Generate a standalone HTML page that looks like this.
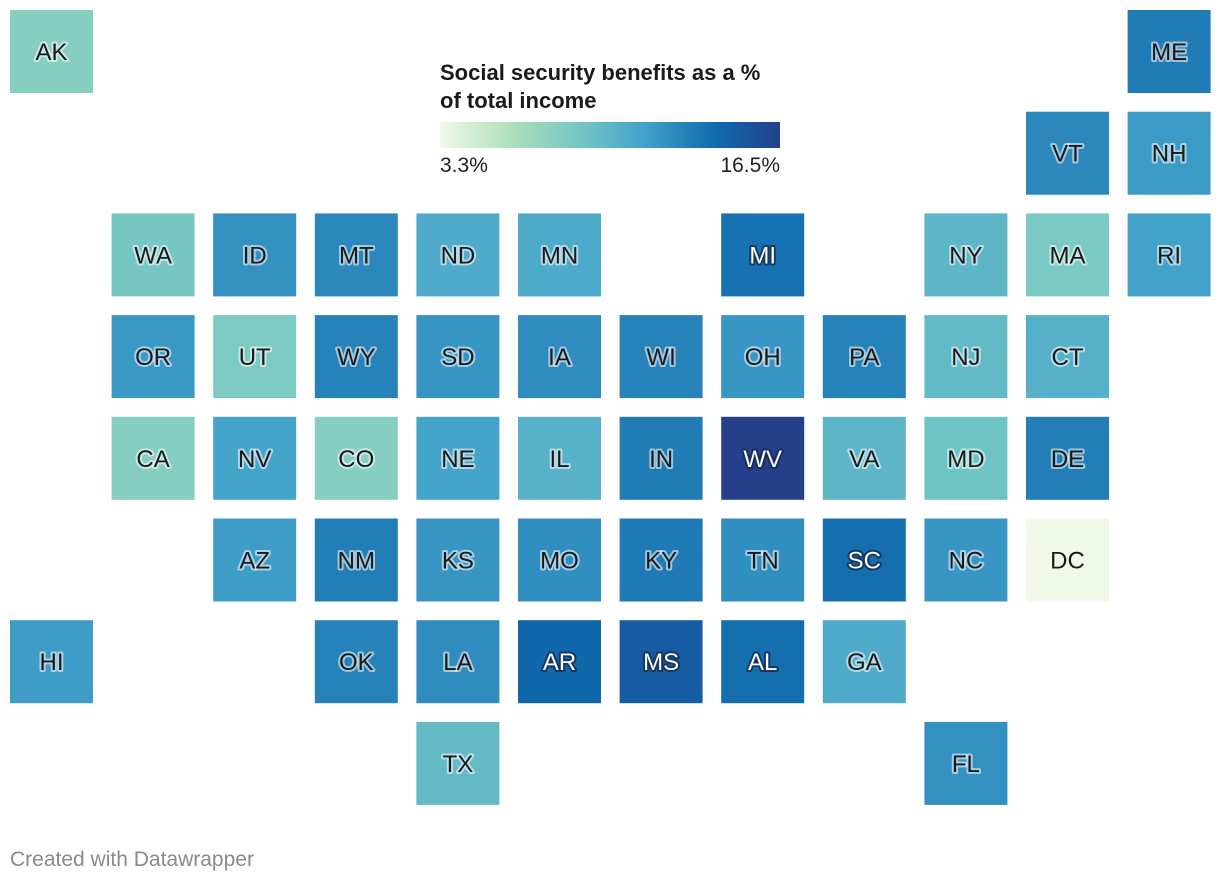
<!DOCTYPE html>
<html><head><meta charset="utf-8">
<style>
body{margin:0;background:#fff;font-family:"Liberation Sans",sans-serif}
svg{display:block}
</style></head>
<body>
<svg id="chart" width="1220" height="882">
<defs>
<linearGradient id="lg" x1="0" x2="1" y1="0" y2="0">
<stop offset="0" stop-color="#f0f9e8"/><stop offset="0.22" stop-color="#aadeb8"/>
<stop offset="0.42" stop-color="#71c5c5"/><stop offset="0.6" stop-color="#43a2ca"/>
<stop offset="0.82" stop-color="#0f68ab"/><stop offset="1" stop-color="#253f8a"/>
</linearGradient>
</defs>
<g id="tiles"></g>
<g>
<text x="440" y="80" font-size="22" font-weight="bold" fill="#1a1a1a">Social security benefits as a %</text>
<text x="440" y="108" font-size="22" font-weight="bold" fill="#1a1a1a">of total income</text>
<rect x="440" y="122" width="340" height="26" fill="url(#lg)"/>
<text x="440" y="172" font-size="21" fill="#222">3.3%</text>
<text x="780" y="172" font-size="21" fill="#222" text-anchor="end">16.5%</text>
</g>
<text x="10" y="866" font-size="21" fill="#8a8a8a">Created with Datawrapper</text>
</svg>
<script>
const states=["AK","ME","VT","NH","WA","ID","MT","ND","MN","MI","NY","MA","RI","OR","UT","WY","SD","IA","WI","OH","PA","NJ","CT","CA","NV","CO","NE","IL","IN","WV","VA","MD","DE","AZ","NM","KS","MO","KY","TN","SC","NC","DC","HI","OK","LA","AR","MS","AL","GA","TX","FL"];
const cols=[0,11,10,11,1,2,3,4,5,7,9,10,11,1,2,3,4,5,6,7,8,9,10,1,2,3,4,5,6,7,8,9,10,2,3,4,5,6,7,8,9,10,0,3,4,5,6,7,8,4,9];
const rows=[0,0,1,1,2,2,2,2,2,2,2,2,2,3,3,3,3,3,3,3,3,3,3,4,4,4,4,4,4,4,4,4,4,5,5,5,5,5,5,5,5,5,6,6,6,6,6,6,6,7,7];
const values=[7.9,13.1,12.5,11.6,8.6,12.1,12.5,10.6,10.7,13.6,9.9,8.4,11.2,11.7,8.3,12.8,11.9,12.3,12.8,11.8,12.8,9.6,10.3,7.9,11.1,7.9,11.1,10.2,13.1,16.5,9.9,9.0,13.0,11.5,13.0,11.9,12.2,13.2,12.2,13.8,11.8,3.3,11.5,12.8,12.3,14.2,14.8,13.8,10.6,9.5,12.1];
const vmin=3.3,vmax=16.5;
const stops=[[0,[240,249,232]],[0.22,[170,222,184]],[0.42,[113,197,197]],[0.6,[67,162,202]],[0.82,[15,104,171]],[1,[37,63,138]]];
function color(v){let t=(v-vmin)/(vmax-vmin);t=Math.max(0,Math.min(1,t));
for(let i=1;i<stops.length;i++){if(t<=stops[i][0]){const a=stops[i-1],b=stops[i];const f=(t-a[0])/(b[0]-a[0]);
const c=a[1].map((x,k)=>Math.round(x+(b[1][k]-x)*f));return `rgb(${c.join(',')})`;}}return 'rgb(37,63,138)';}
function xPos(c){return 10+c*101.6;}
function yPos(r){return 10+r*101.7;}
const NS="http://www.w3.org/2000/svg";
const g=document.getElementById('tiles');
states.forEach((s,i)=>{
const x=xPos(cols[i]),y=yPos(rows[i]),v=values[i],fill=color(v);
const r=document.createElementNS(NS,'rect');
r.setAttribute('x',x);r.setAttribute('y',y);r.setAttribute('width',83);r.setAttribute('height',83);r.setAttribute('fill',fill);


g.appendChild(r);
const t=document.createElementNS(NS,'text');
const dark=v>13.4;
t.setAttribute('x',x+41.5);t.setAttribute('y',y+50);t.setAttribute('text-anchor','middle');t.setAttribute('font-size','24');
t.setAttribute('fill',dark?'#fff':'#1a1a1a');
if(v>3.5){t.setAttribute('stroke',dark?'rgba(20,40,80,0.75)':'rgba(255,255,255,0.55)');t.setAttribute('stroke-width','4');t.setAttribute('paint-order','stroke');t.setAttribute('stroke-linejoin','round');}
t.textContent=s;


g.appendChild(t);
});
</script>
</body></html>
